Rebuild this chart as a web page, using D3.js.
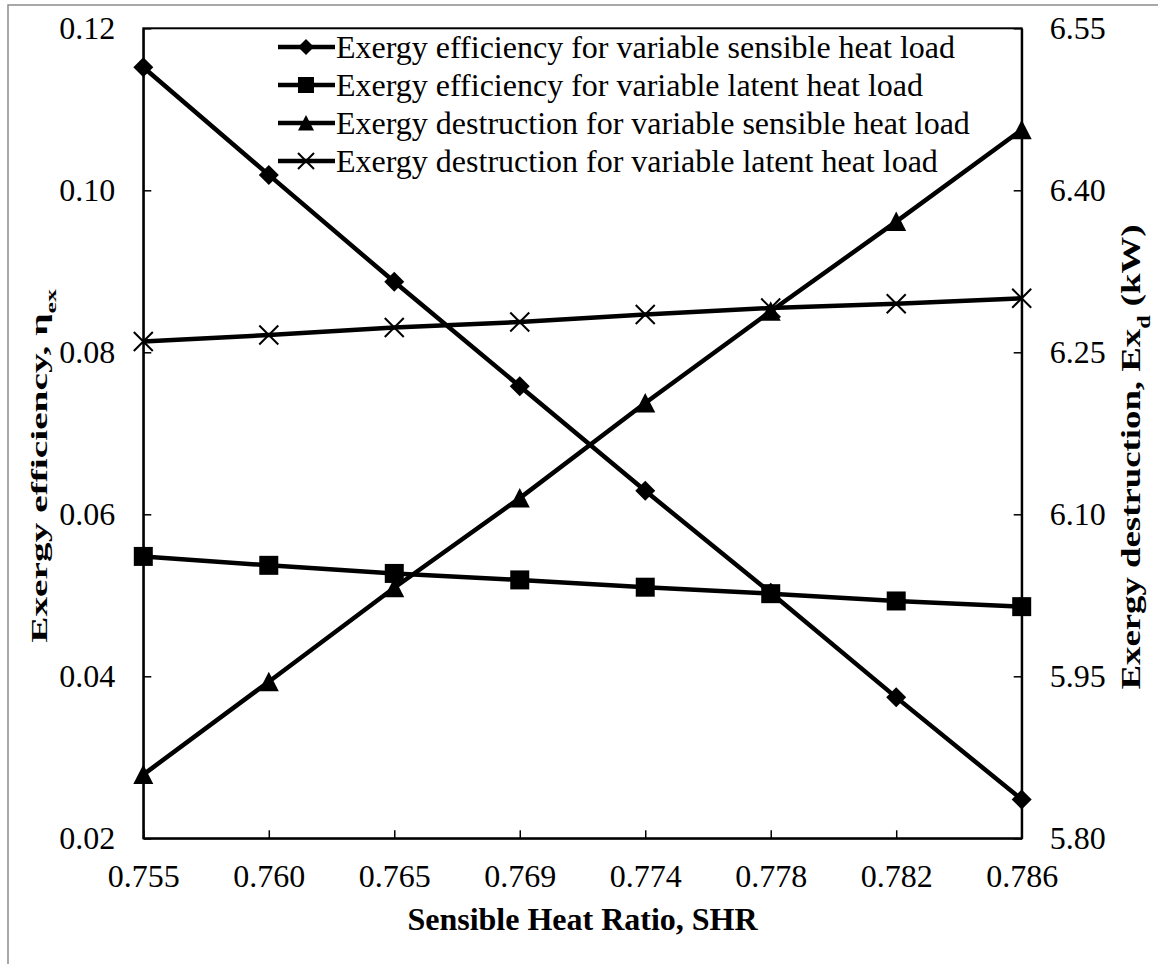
<!DOCTYPE html>
<html>
<head>
<meta charset="utf-8">
<script src="https://cdn.jsdelivr.net/npm/d3@7"></script>
<style>
  html, body { margin: 0; padding: 0; background: #fff; }
  svg { display: block; }
  text { font-family: "Liberation Serif", "Times New Roman", serif; fill: #000; }
</style>
</head>
<body>
<svg id="chart" width="1158" height="964"></svg>
<script>
// ---- data ----
const categories = ["0.755", "0.760", "0.765", "0.769", "0.774", "0.778", "0.782", "0.786"];
const effSensible = [0.1152, 0.1019, 0.0887, 0.0758, 0.0629, 0.0503, 0.0374, 0.0248];
const effLatent = [0.0548, 0.0537, 0.0527, 0.0519, 0.0510, 0.0502, 0.0493, 0.0486];
const destSensible = [5.859, 5.945, 6.032, 6.115, 6.203, 6.288, 6.371, 6.456];
const destLatent = [6.260, 6.266, 6.273, 6.278, 6.285, 6.291, 6.295, 6.300];
const leftTicks = [0.02, 0.04, 0.06, 0.08, 0.10, 0.12];
const rightTicks = [5.80, 5.95, 6.10, 6.25, 6.40, 6.55];
const legendLabels = [
  "Exergy efficiency for variable sensible heat load",
  "Exergy efficiency for variable latent heat load",
  "Exergy destruction for variable sensible heat load",
  "Exergy destruction for variable latent heat load"
];

// ---- layout ----
const L = 143.3, R = 1021.7, T = 28.3, B = 838.3;
const svg = d3.select("#chart");

// outer frame
svg.append("rect").attr("x", 8).attr("y", 5).attr("width", 1170).attr("height", 980)
  .attr("fill", "none").attr("stroke", "#8c8c8c").attr("stroke-width", 1.5);

const x = d3.scalePoint().domain(categories).range([L, R]);
const yL = d3.scaleLinear().domain([0.02, 0.12]).range([B, T]);
const yR = d3.scaleLinear().domain([5.80, 6.55]).range([B, T]);

// plot box
svg.append("rect").attr("x", L).attr("y", T).attr("width", R - L).attr("height", B - T)
  .attr("fill", "none").attr("stroke", "#000").attr("stroke-width", 2);

const FS = 32;

// left axis
const gL = svg.append("g").attr("transform", `translate(${L},0)`)
  .call(d3.axisLeft(yL).tickValues(leftTicks).tickFormat(d3.format(".2f")).tickSizeInner(-8).tickSizeOuter(0).tickPadding(28));
gL.select(".domain").attr("stroke-width", 2);
gL.selectAll(".tick line").attr("stroke-width", 1.5);
gL.selectAll(".tick text").style("font-size", FS + "px").attr("dy", "0.33em");

// right axis
const gR = svg.append("g").attr("transform", `translate(${R},0)`)
  .call(d3.axisRight(yR).tickValues(rightTicks).tickFormat(d3.format(".2f")).tickSizeInner(-8).tickSizeOuter(0).tickPadding(28));
gR.select(".domain").attr("stroke-width", 2);
gR.selectAll(".tick line").attr("stroke-width", 1.5);
gR.selectAll(".tick text").style("font-size", FS + "px").attr("dy", "0.33em");

// bottom axis
const gB = svg.append("g").attr("transform", `translate(0,${B})`)
  .call(d3.axisBottom(x).tickSizeInner(-8).tickSizeOuter(0).tickPadding(26));
gB.select(".domain").attr("stroke-width", 2);
gB.selectAll(".tick line").attr("stroke-width", 1.5);
gB.selectAll(".tick text").style("font-size", FS + "px").attr("dy", "0.71em");

// axis titles
svg.append("text").attr("x", (L + R) / 2).attr("y", 930).attr("text-anchor", "middle")
  .style("font-size", FS + "px").style("font-weight", "bold").text("Sensible Heat Ratio, SHR");

const lt = svg.append("text").attr("transform", `translate(47,466) rotate(-90) scale(1.23,0.72)`).attr("text-anchor", "middle")
  .style("font-size", FS + "px").style("font-weight", "bold");
lt.append("tspan").text("Exergy efficiency, η");
lt.append("tspan").attr("baseline-shift", "sub").style("font-size", "21px").text("ex");

const rt = svg.append("text").attr("transform", `translate(1140,457) rotate(-90) scale(1.15,0.86)`).attr("text-anchor", "middle")
  .style("font-size", FS + "px").style("font-weight", "bold");
rt.append("tspan").text("Exergy destruction, Ex");
rt.append("tspan").attr("baseline-shift", "sub").style("font-size", "21px").text("d");
rt.append("tspan").text(" (kW)");

// marker shapes
function markerPath(type, s) {
  const h = s / 2;
  if (type === "diamond") return `M0,${-h}L${h},0L0,${h}L${-h},0Z`;
  if (type === "square") return `M${-h},${-h}H${h}V${h}H${-h}Z`;
  if (type === "triangle") return `M0,${-h}L${h},${h * 0.95}L${-h},${h * 0.95}Z`;
  if (type === "cross") return `M${-h},${-h}L${h},${h}M${h},${-h}L${-h},${h}`;
}

const series = [
  { vals: effSensible, y: yL, m: "diamond", size: 20 },
  { vals: effLatent, y: yL, m: "square", size: 19 },
  { vals: destSensible, y: yR, m: "triangle", size: 20 },
  { vals: destLatent, y: yR, m: "cross", size: 19 }
];

series.forEach(s => {
  const line = d3.line().x((d, i) => x(categories[i])).y(d => s.y(d));
  svg.append("path").attr("d", line(s.vals)).attr("fill", "none").attr("stroke", "#000")
    .attr("stroke-width", 4.5).attr("stroke-linejoin", "round");
  svg.append("g").selectAll("path").data(s.vals).join("path")
    .attr("transform", (d, i) => `translate(${x(categories[i])},${s.y(d)})`)
    .attr("d", markerPath(s.m, s.size))
    .attr("fill", s.m === "cross" ? "none" : "#000")
    .attr("stroke", "#000").attr("stroke-width", s.m === "cross" ? 2 : 0);
});

// legend
const lg = svg.append("g");
const rowY = [47, 85, 123, 161];
legendLabels.forEach((lab, i) => {
  const s = series[i];
  const g = lg.append("g").attr("transform", `translate(0,${rowY[i]})`);
  g.append("line").attr("x1", 278).attr("x2", 335).attr("y1", 0).attr("y2", 0)
    .attr("stroke", "#000").attr("stroke-width", 4.5);
  g.append("path").attr("transform", "translate(306,0)").attr("d", markerPath(s.m, 16))
    .attr("fill", s.m === "cross" ? "none" : "#000")
    .attr("stroke", "#000").attr("stroke-width", s.m === "cross" ? 2 : 0);
  g.append("text").attr("x", 336).attr("y", 0).attr("dy", "0.33em")
    .style("font-size", FS + "px").text(lab);
});
</script>
</body>
</html>
